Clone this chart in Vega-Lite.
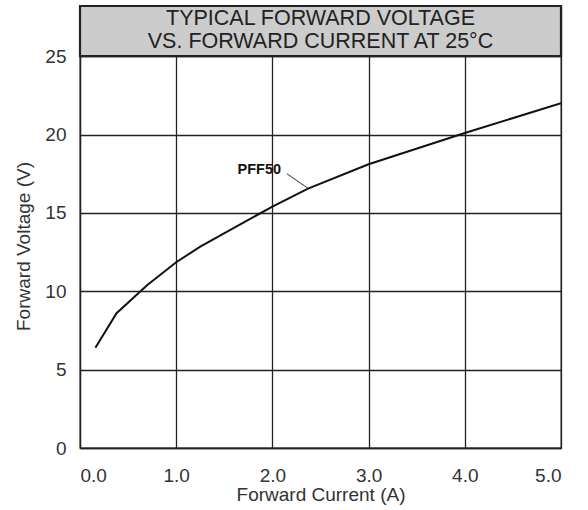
{
  "$schema": "https://vega.github.io/schema/vega-lite/v6.json",
  "width": 481,
  "height": 442,
  "autosize": {"type": "none"},
  "padding": {"left": 80, "right": 27, "top": 6, "bottom": 62},
  "background": "white",
  "config": {
    "font": "Liberation Sans",
    "view": {"stroke": "#222", "strokeWidth": 1.3},
    "axis": {
      "grid": true, "gridColor": "#222", "gridWidth": 1.3, "gridOpacity": 1,
      "domainColor": "#222", "domainWidth": 1.3, "ticks": false,
      "labelFont": "Liberation Sans", "labelFontSize": 19, "labelColor": "#333",
      "titleFont": "Liberation Sans", "titleFontSize": 19, "titleFontWeight": "normal", "titleColor": "#333"
    }
  },
  "datasets": {
    "curve": [
      {"current": 0.16, "voltage": 6.4},
      {"current": 0.38, "voltage": 8.6},
      {"current": 0.70, "voltage": 10.4},
      {"current": 1.0, "voltage": 11.85},
      {"current": 1.25, "voltage": 12.85},
      {"current": 1.6, "voltage": 14.05},
      {"current": 2.0, "voltage": 15.4},
      {"current": 2.37, "voltage": 16.55},
      {"current": 3.0, "voltage": 18.1},
      {"current": 4.0, "voltage": 20.1},
      {"current": 5.0, "voltage": 22.0}
    ],
    "box": [{"x": 0, "x2": 5, "y": 25, "y2": 28.2}],
    "titles": [
      {"x": 2.5, "y": 27.4, "text": "TYPICAL FORWARD VOLTAGE"},
      {"x": 2.5, "y": 25.9, "text": "VS. FORWARD CURRENT AT 25°C"}
    ],
    "leader": [{"x": 2.15, "y": 17.5, "x2": 2.37, "y2": 16.57}],
    "label": [{"x": 2.1, "y": 17.75, "text": "PFF50"}]
  },
  "layer": [
    {
      "data": {"name": "curve"},
      "mark": {"type": "line", "color": "#111", "strokeWidth": 2, "clip": true},
      "encoding": {
        "x": {"field": "current", "type": "quantitative",
              "scale": {"domain": [0, 5], "nice": false},
              "axis": {"values": [0, 1, 2, 3, 4, 5], "format": ".1f", "title": "Forward Current (A)", "labelPadding": 18, "titlePadding": 0}},
        "y": {"field": "voltage", "type": "quantitative",
              "scale": {"domain": [0, 28.2], "nice": false},
              "axis": {"values": [0, 5, 10, 15, 20, 25], "title": "Forward Voltage (V)", "labelPadding": 14, "titleX": -47, "titleY": 240}}
      }
    },
    {
      "data": {"name": "box"},
      "mark": {"type": "rect", "fill": "#cccccc", "stroke": "#222", "strokeWidth": 2.2},
      "encoding": {
        "x": {"field": "x", "type": "quantitative"},
        "x2": {"field": "x2"},
        "y": {"field": "y", "type": "quantitative"},
        "y2": {"field": "y2"}
      }
    },
    {
      "data": {"name": "titles"},
      "mark": {"type": "text", "font": "Liberation Sans", "fontSize": 21.5, "color": "#222", "baseline": "middle", "align": "center"},
      "encoding": {
        "x": {"field": "x", "type": "quantitative"},
        "y": {"field": "y", "type": "quantitative"},
        "text": {"field": "text"}
      }
    },
    {
      "data": {"name": "leader"},
      "mark": {"type": "rule", "color": "#333", "strokeWidth": 1},
      "encoding": {
        "x": {"field": "x", "type": "quantitative"},
        "y": {"field": "y", "type": "quantitative"},
        "x2": {"field": "x2"},
        "y2": {"field": "y2"}
      }
    },
    {
      "data": {"name": "label"},
      "mark": {"type": "text", "font": "Liberation Sans", "fontSize": 14.5, "fontWeight": "bold", "color": "#111", "baseline": "middle", "align": "right", "dx": -1},
      "encoding": {
        "x": {"field": "x", "type": "quantitative"},
        "y": {"field": "y", "type": "quantitative"},
        "text": {"field": "text"}
      }
    }
  ]
}
